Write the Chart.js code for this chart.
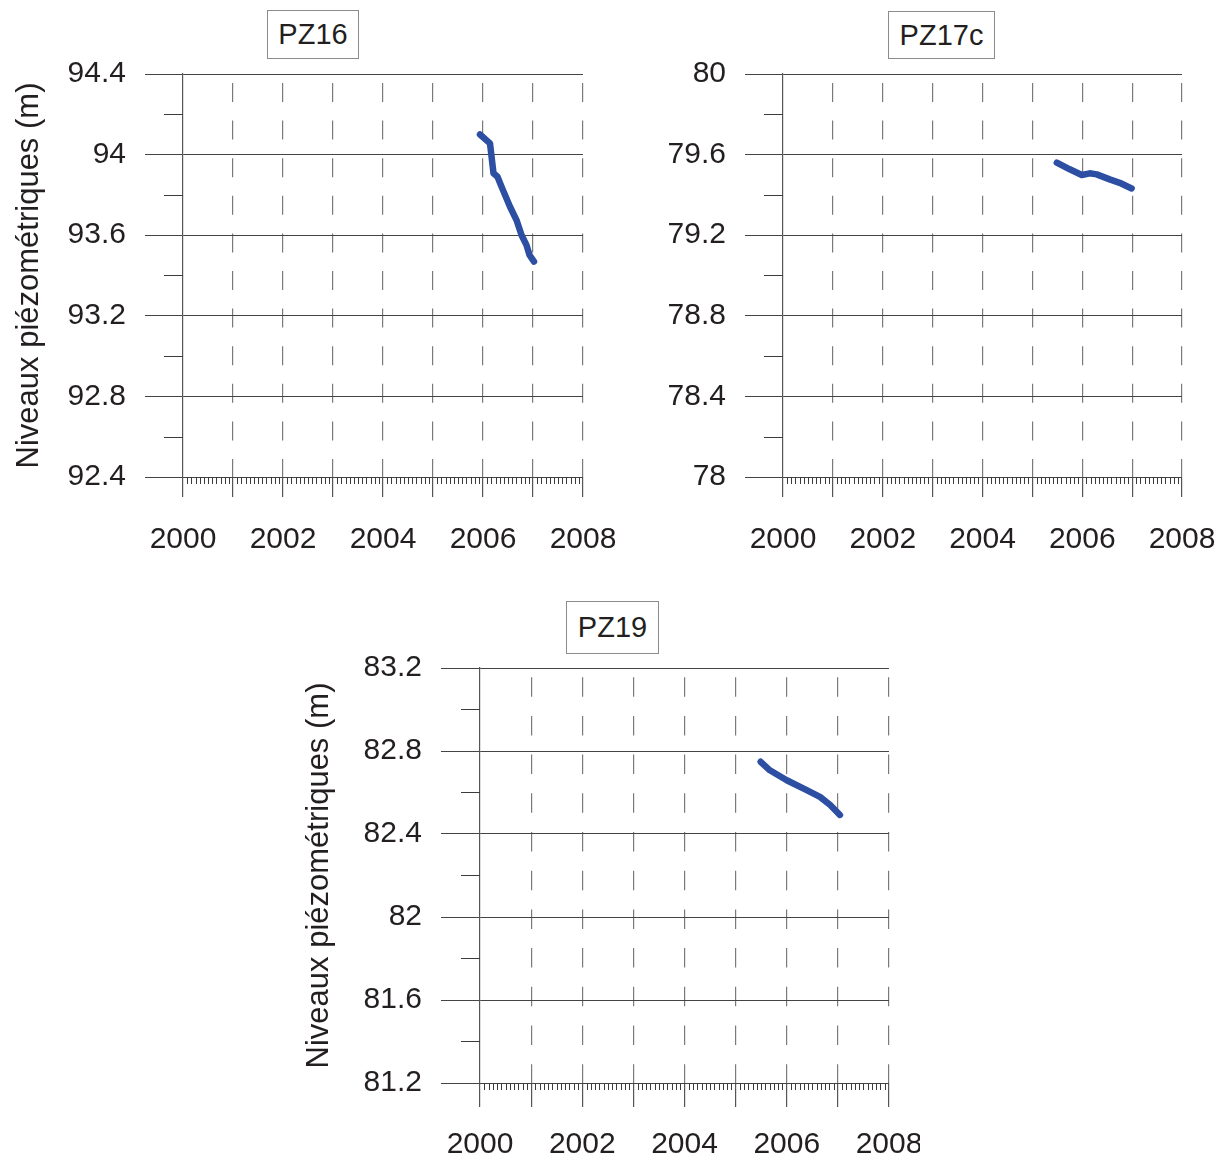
<!DOCTYPE html>
<html><head><meta charset="utf-8">
<script src="https://cdn.jsdelivr.net/npm/chart.js@4.4.1/dist/chart.umd.min.js"></script>
<style>
html,body{margin:0;padding:0;background:#fff;width:1226px;height:1157px;overflow:hidden;position:relative}
canvas{position:absolute}
.box{position:absolute;border:1px solid #8c8c8c;font-family:"Liberation Sans",Arial,sans-serif;font-size:29px;color:#231f20;display:flex;align-items:center;justify-content:center;box-sizing:border-box;background:#fff;line-height:1}
</style></head><body>
<div class="box" style="left:267px;top:10px;width:92px;height:49px">PZ16</div>
<div class="box" style="left:888px;top:11px;width:107px;height:48px">PZ17c</div>
<div class="box" style="left:566px;top:601px;width:93px;height:53px">PZ19</div>
<canvas id="c1" width="625" height="570" style="left:0;top:0"></canvas>
<canvas id="c2" width="601" height="570" style="left:625px;top:0"></canvas>
<canvas id="c3" width="630" height="567" style="left:290px;top:590px"></canvas>
<script>
// ---- data ----
const xTickYears = [2000, 2002, 2004, 2006, 2008];
const yTitle = "Niveaux piézométriques (m)";

const pz16Years  = [2005.94, 2006.14, 2006.21, 2006.29, 2006.37, 2006.54, 2006.67, 2006.77, 2006.87, 2006.93, 2007.02];
const pz16Levels = [94.10, 94.056, 93.907, 93.89, 93.841, 93.741, 93.675, 93.601, 93.551, 93.502, 93.469];
const pz16Ticks  = [92.4, 92.8, 93.2, 93.6, 94.0, 94.4];

const pz17cYears  = [2005.49, 2005.75, 2005.99, 2006.15, 2006.29, 2006.55, 2006.75, 2006.99];
const pz17cLevels = [79.56, 79.527, 79.499, 79.507, 79.502, 79.477, 79.46, 79.432];
const pz17cTicks  = [78.0, 78.4, 78.8, 79.2, 79.6, 80.0];

const pz19Years  = [2005.49, 2005.67, 2006.00, 2006.39, 2006.65, 2006.85, 2007.04];
const pz19Levels = [82.748, 82.707, 82.659, 82.611, 82.579, 82.54, 82.492];
const pz19Ticks  = [81.2, 81.6, 82.0, 82.4, 82.8, 83.2];

// ---- drawing ----
const FONT = '"Liberation Sans", Arial, sans-serif';
const TXT = '#231f20';

const minorTicks = {
  id: 'minorTicks',
  beforeDatasetsDraw(chart, args, opts) {
    const {ctx, chartArea} = chart;
    const xs = chart.scales.x, ys = chart.scales.y;
    ctx.save();
    ctx.strokeStyle = '#3c3c3c';
    ctx.lineWidth = 1;
    ctx.beginPath();
    for (let m = 1; m < (xs.max - xs.min) * 12; m++) {
      if (m % 12 === 0) continue;
      const px = Math.round(xs.getPixelForValue(xs.min + m / 12)) + 0.5;
      ctx.moveTo(px, chartArea.bottom);
      ctx.lineTo(px, chartArea.bottom + opts.xLen);
    }
    const step = opts.yStep;
    for (let v = ys.min + step / 2; v < ys.max; v += step) {
      const py = Math.round(ys.getPixelForValue(v)) + 0.5;
      ctx.moveTo(chartArea.left - opts.yLen, py);
      ctx.lineTo(chartArea.left, py);
    }
    ctx.stroke();
    ctx.restore();
  }
};

function makeChart(id, years, levels, yTicks, o) {
  const pts = years.map((y, i) => ({x: y, y: levels[i]}));
  new Chart(document.getElementById(id), {
    type: 'line',
    data: {datasets: [{data: pts, borderColor: '#2d4fa3', borderWidth: 6.5, pointRadius: 0,
      borderCapStyle: 'round', borderJoinStyle: 'round', tension: 0, fill: false}]},
    options: {
      responsive: false, animation: false,
      layout: {padding: o.padding},
      plugins: {legend: {display: false}, tooltip: {enabled: false},
        minorTicks: {xLen: o.minorX, yLen: o.minorY, yStep: 0.4}},
      scales: {
        x: {
          type: 'linear', min: xTickYears[0], max: xTickYears[xTickYears.length - 1],
          afterFit: s => { s.height = o.xHeight; s.paddingLeft = 0; s.paddingRight = 0; },
          ticks: {stepSize: 1, autoSkip: false, maxRotation: 0, padding: o.xPad,
            color: TXT, font: {family: FONT, size: 30},
            callback: v => xTickYears.includes(v) ? String(v) : ''},
          grid: {color: c => (c.tick && c.tick.value === xTickYears[0]) ? 'rgba(0,0,0,0)' : '#7a7a7a',
            tickColor: '#555', tickLength: o.xTickLen, lineWidth: 1.2},
          border: {display: true, color: '#444', width: 1, dash: o.dash, dashOffset: o.dashOffset}
        },
        y: {
          type: 'linear', min: yTicks[0], max: yTicks[yTicks.length - 1],
          afterFit: s => { s.width = o.yWidth; s.paddingTop = 0; s.paddingBottom = 0; },
          afterBuildTicks: s => { s.ticks = yTicks.map(v => ({value: v})); },
          ticks: {padding: 19, color: TXT, font: {family: FONT, size: 30},
            callback: v => String(Number(v.toFixed(1)))},
          grid: {color: '#444', tickColor: '#444', tickLength: o.yTickLen, lineWidth: 1},
          border: {display: true, color: '#555', width: 1.2},
          title: {display: o.showTitle, text: yTitle, color: TXT,
            font: {family: FONT, size: 31}, padding: {top: o.titlePad, bottom: 0}}
        }
      }
    },
    plugins: [minorTicks]
  });
}

makeChart('c1', pz16Years, pz16Levels, pz16Ticks, {
  padding: {left: 0, top: 74, right: 42, bottom: 0}, yWidth: 183, xHeight: 93,
  xTickLen: 20, yTickLen: 38, xPad: 25, minorX: 7, minorY: 19,
  dash: [19, 18.6], dashOffset: 28.6, showTitle: true, titlePad: 11
});
makeChart('c2', pz17cYears, pz17cLevels, pz17cTicks, {
  padding: {left: 0, top: 74, right: 44, bottom: 0}, yWidth: 158, xHeight: 93,
  xTickLen: 20, yTickLen: 38, xPad: 25, minorX: 7, minorY: 19,
  dash: [19, 18.6], dashOffset: 28.6, showTitle: false, titlePad: 8
});
makeChart('c3', pz19Years, pz19Levels, pz19Ticks, {
  padding: {left: 0, top: 78, right: 31, bottom: 0}, yWidth: 190, xHeight: 74,
  xTickLen: 24, yTickLen: 39, xPad: 20, minorX: 7, minorY: 19,
  dash: [19.5, 19.2], dashOffset: 29.5, showTitle: true, titlePad: 11
});
</script>
</body></html>
